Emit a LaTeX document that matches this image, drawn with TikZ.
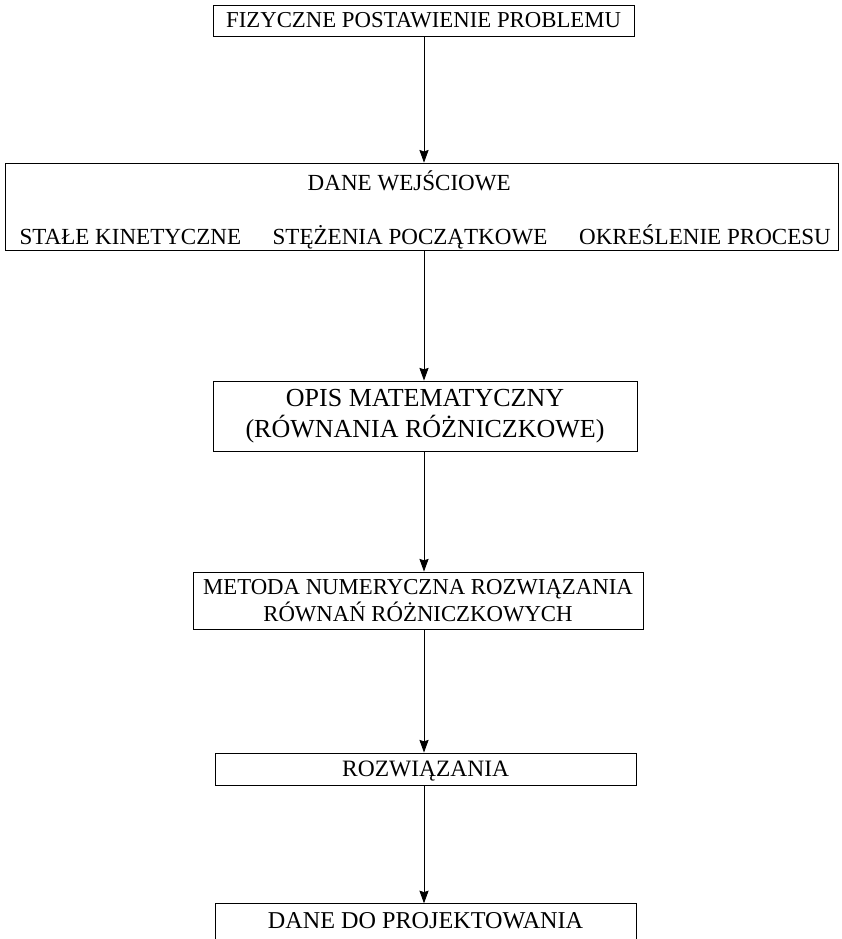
\documentclass[tikz,border=0pt]{standalone}
\usepackage{fontspec}
\setmainfont{Liberation Serif}
\usepackage{tikz}
\usetikzlibrary{calc,arrows.meta}
\usetikzlibrary{positioning}

\begin{document}
\begin{tikzpicture}[line width=.6pt,
  blok/.style={draw, inner sep=0pt, align=center, font=\fontsize{16.2}{20}\selectfont},
  opis/.style={font=\fontsize{16.4}{20}\selectfont, inner sep=0pt, anchor=base},
  strz/.style={-{Stealth[length=9pt,width=6.5pt,inset=1pt]}}]
\useasboundingbox (0,0) rectangle (21.05,23.475);
\node[blok, minimum width=10.525cm, minimum height=.775cm] (fiz) at (10.59,22.96){FIZYCZNE POSTAWIENIE PROBLEMU};
\node[draw, minimum width=20.825cm, minimum height=2.175cm, inner sep=0pt] (dane) at (10.54,18.31){};
\node[opis] (wej) at (10.23,18.7){DANE WEJŚCIOWE};
\node[opis] (stale) at (3.26,17.37){STAŁE KINETYCZNE};
\node[opis] (stez) at (10.25,17.37){STĘŻENIA POCZĄTKOWE};
\node[opis] (okr) at (17.625,17.37){OKREŚLENIE PROCESU};
\node[blok, minimum width=10.6cm, minimum height=1.75cm, font=\fontsize{18.5}{22}\selectfont] (mat) at (10.625,13.075){OPIS MATEMATYCZNY\\(RÓWNANIA RÓŻNICZKOWE)};
\node[blok, minimum width=11.25cm, minimum height=1.425cm, font=\fontsize{16.2}{18.8}\selectfont] (num) at (10.45,8.4625){METODA NUMERYCZNA ROZWIĄZANIA\\RÓWNAŃ RÓŻNICZKOWYCH};
\node[blok, minimum width=10.525cm, minimum height=.8cm, font=\fontsize{16.7}{21}\selectfont, text height=11pt, text depth=0pt] (roz) at (10.64,4.25){ROZWIĄZANIA};
\node[blok, minimum width=10.525cm, font=\fontsize{17.2}{21}\selectfont, text height=17.4pt, text depth=.75cm] (proj) at (10.64,.2){DANE DO PROJEKTOWANIA};
\coordinate (x) at (10.6,0);
\draw[strz] (fiz.south -| x) -- (dane.north -| x);
\draw[strz] (dane.south -| x) -- (mat.north -| x);
\draw[strz] (mat.south -| x) -- (num.north -| x);
\draw[strz] (num.south -| x) -- (roz.north -| x);
\draw[strz] (roz.south -| x) -- (proj.north -| x);
\end{tikzpicture}
\end{document}
